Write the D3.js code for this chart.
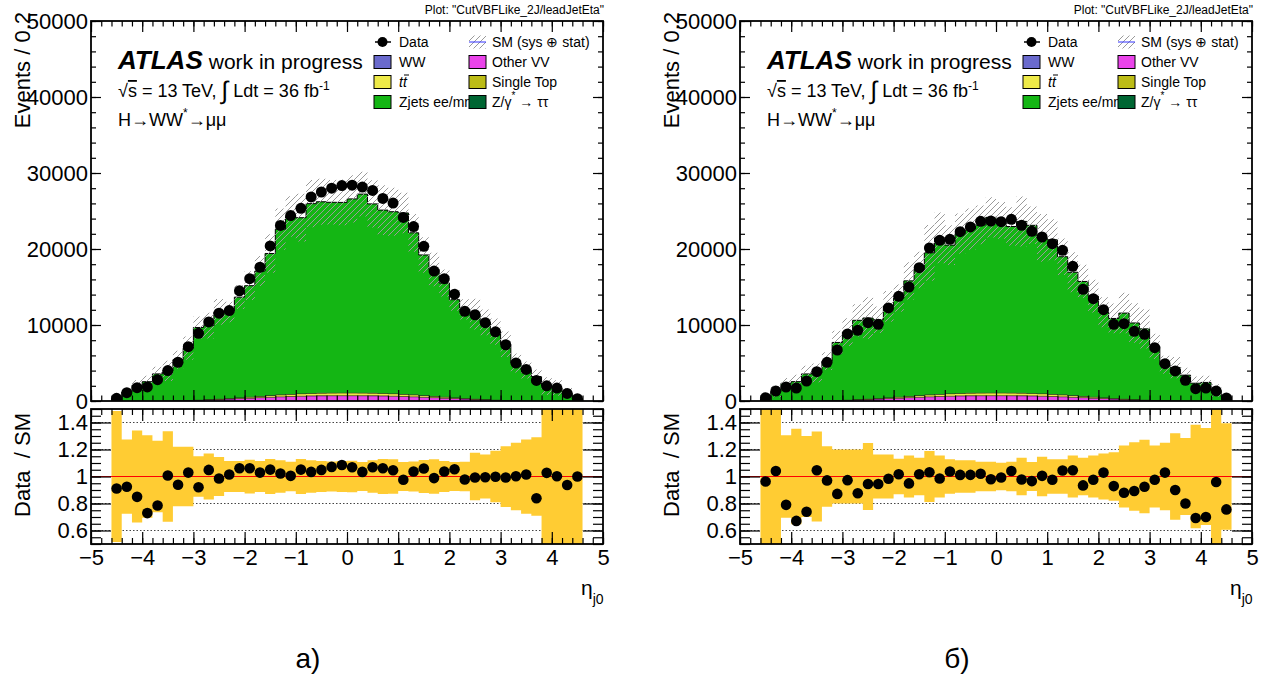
<!DOCTYPE html>
<html><head><meta charset="utf-8">
<script src="https://cdn.jsdelivr.net/npm/d3@7"></script>
<style>
body{margin:0;background:#fff}
svg{display:block}
text{font-family:"Liberation Sans",Arial,Helvetica,sans-serif;fill:#000}
</style>
</head><body>
<svg id="c" width="1275" height="677"></svg>
<script>
// ---------------- data ----------------
const etaCenters = [-4.5,-4.3,-4.1,-3.9,-3.7,-3.5,-3.3,-3.1,-2.9,-2.7,-2.5,-2.3,-2.1,-1.9,-1.7,-1.5,-1.3,-1.1,-0.9,-0.7,-0.5,-0.3,-0.1,0.1,0.3,0.5,0.7,0.9,1.1,1.3,1.5,1.7,1.9,2.1,2.3,2.5,2.7,2.9,3.1,3.3,3.5,3.7,3.9,4.1,4.3,4.5];
const binWidth = 0.2;

const dataA = [350,1100,1750,1850,2800,4000,5100,7150,8900,10400,11550,11900,14500,16100,17600,20400,23100,24400,25350,26850,27500,28000,28350,28400,28150,27700,26650,26050,24150,22950,20350,17100,16100,14050,11800,11350,10300,9100,7400,5000,4150,2700,2000,1700,1000,300];
const zjetsA = [379,1179,2042,2509,3526,3914,5348,6832,9512,9691,11435,11354,13207,14623,16447,18656,21758,23355,23132,24931,25145,25053,25027,25490,26133,24866,24082,23916,23820,21286,18462,16651,14975,12871,11695,11139,10129,8956,7335,4907,4031,3177,1918,1678,1056,295];
const errA = [0.485,0.275,0.34,0.305,0.265,0.335,0.22,0.22,0.15,0.17,0.145,0.115,0.115,0.125,0.115,0.13,0.12,0.11,0.13,0.12,0.115,0.112,0.115,0.117,0.108,0.12,0.13,0.127,0.108,0.112,0.122,0.127,0.115,0.108,0.11,0.176,0.163,0.19,0.225,0.25,0.275,0.29,0.6,0.6,0.6,0.6];

const dataB = [440,1300,1840,1710,2630,3860,5090,6710,8820,9300,10310,10090,12240,13770,15000,17540,20130,21140,21270,22280,22900,23640,23680,23600,23900,23110,22330,21580,20700,19820,17720,14690,13460,12020,10090,10180,9170,8770,7020,4910,3950,2720,1620,1710,1320,400];
const zjetsB = [452,1238,2310,2519,3518,3632,5159,7587,8903,10393,10631,10319,11993,12989,15149,16493,18661,20538,19523,20980,21558,22085,23061,22664,21868,22560,22080,20485,20285,18140,16187,15071,13240,11222,10491,11277,10046,9329,7076,4689,4331,3359,2309,2424,1365,524];
const errB = [0.6,0.6,0.305,0.354,0.30,0.334,0.224,0.2,0.2,0.2,0.249,0.163,0.163,0.132,0.156,0.139,0.188,0.156,0.127,0.12,0.12,0.11,0.11,0.102,0.11,0.139,0.107,0.146,0.127,0.127,0.156,0.139,0.156,0.17,0.18,0.23,0.254,0.273,0.23,0.25,0.32,0.285,0.383,0.36,0.6,0.395];

// minor backgrounds (same samples in both panels)
const ww        = [0,0,1,2,3,5,8,12,18,25,32,40,48,55,62,68,72,75,78,80,80,81,82,82,81,80,80,78,75,72,68,62,55,48,40,32,25,18,12,8,5,3,2,1,0,0];
const otherVV   = [5,10,15,22,30,40,55,75,100,135,175,220,270,320,380,430,480,520,555,580,600,610,615,615,610,600,580,555,520,480,430,380,320,270,220,175,135,100,75,55,40,30,22,15,10,5];
const singleTop = [0,0,1,1,2,3,5,8,12,17,22,28,34,40,46,52,56,60,62,64,65,66,66,66,66,65,64,62,60,56,52,46,40,34,28,22,17,12,8,5,3,2,1,1,0,0];
const ttbar     = [0,1,2,3,5,8,12,18,26,38,52,70,92,118,148,180,210,240,262,280,292,300,305,305,300,292,280,262,240,210,180,148,118,92,70,52,38,26,18,12,8,5,3,2,1,0];
const ztautau   = [0,0,0,1,1,2,3,4,6,8,10,12,15,18,21,24,27,29,31,32,33,34,34,34,34,33,32,31,29,27,24,21,18,15,12,10,8,6,4,3,2,1,1,0,0,0];

const yMainTicks = [0,10000,20000,30000,40000,50000];
const yRatioTicks = [0.6,0.8,1,1.2,1.4];
const xTicks = [-5,-4,-3,-2,-1,0,1,2,3,4,5];

const colors = {ww:"#6a6acd", otherVV:"#ea44ea", singleTop:"#bcbc16", ttbar:"#eeea48", ztautau:"#006633", zjets:"#14b614"};
const hatchColor = "#9a9a9a";
const bandColor = "#ffcc33";

// ---------------- drawing ----------------
const svg = d3.select("#c");
const defs = svg.append("defs");
const pat = defs.append("pattern").attr("id","hatch").attr("patternUnits","userSpaceOnUse")
  .attr("width",6).attr("height",6);
pat.append("path").attr("d","M-1,1 L1,-1 M0,6 L6,0 M5,7 L7,5")
  .attr("stroke",hatchColor).attr("stroke-width",1).attr("fill","none");

const FX0=91, FX1=603, MY0=21, MY1=401, RY0=409, RY1=544;

function styleAxis(sel, w){
  sel.select(".domain").remove();
  sel.selectAll(".tick line").attr("stroke","#000").attr("stroke-width",w||1.2);
  sel.selectAll(".tick text").attr("font-family","Liberation Sans, Arial, sans-serif").attr("font-size",22).attr("fill","#000");
}

function drawPanel(ox, id, dataArr, zjetsArr, errArr, caption){
  const g = svg.append("g").attr("transform",`translate(${ox},0)`);
  const x = d3.scaleLinear().domain([-5,5]).range([FX0,FX1]);
  const y = d3.scaleLinear().domain([0,50000]).range([MY1,MY0]);
  const yr = d3.scaleLinear().domain([0.5,1.5]).range([RY1,RY0]);

  defs.append("clipPath").attr("id","cm"+id).append("rect")
    .attr("x",FX0).attr("y",MY0).attr("width",FX1-FX0).attr("height",MY1-MY0);
  defs.append("clipPath").attr("id","cr"+id).append("rect")
    .attr("x",FX0).attr("y",RY0).attr("width",FX1-FX0).attr("height",RY1-RY0);

  const table = etaCenters.map((c,i)=>({c, ww:ww[i], otherVV:otherVV[i], singleTop:singleTop[i], ttbar:ttbar[i], ztautau:ztautau[i], zjets:zjetsArr[i], data:dataArr[i], err:errArr[i]}));
  const keys = ["ww","otherVV","singleTop","ttbar","ztautau","zjets"];
  const series = d3.stack().keys(keys)(table);
  const total = series[series.length-1].map(v=>v[1]);

  const main = g.append("g").attr("clip-path",`url(#cm${id})`);
  const area = d3.area().x(p=>x(p.x)).y0(p=>y(p.y0)).y1(p=>y(p.y1));
  const line = d3.line().x(p=>x(p.x)).y(p=>y(p.y1));
  series.forEach(s=>{
    const pts=[];
    s.forEach((v,i)=>{
      pts.push({x:etaCenters[i]-binWidth/2,y0:v[0],y1:v[1]});
      pts.push({x:etaCenters[i]+binWidth/2,y0:v[0],y1:v[1]});
    });
    main.append("path").datum(pts).attr("d",area).attr("fill",colors[s.key]);
    const lp=[{x:pts[0].x,y1:0},...pts,{x:pts[pts.length-1].x,y1:0}];
    main.append("path").datum(lp).attr("d",line).attr("fill","none").attr("stroke","#000").attr("stroke-width",s.key==="zjets"?1:0.6);
  });
  // hatched uncertainty band
  const hp=[];
  table.forEach((d,i)=>{
    hp.push({x:d.c-binWidth/2,y0:total[i]*(1-d.err),y1:total[i]*(1+d.err)});
    hp.push({x:d.c+binWidth/2,y0:total[i]*(1-d.err),y1:total[i]*(1+d.err)});
  });
  main.append("path").datum(hp).attr("d",area).attr("fill","url(#hatch)");
  // data points
  main.selectAll("circle.d").data(table).join("circle").attr("class","d")
    .attr("cx",d=>x(d.c)).attr("cy",d=>y(d.data)).attr("r",5.5).attr("fill","#000");

  // ---- ratio ----
  const rat = g.append("g").attr("clip-path",`url(#cr${id})`);
  [0.6,0.8,1.2,1.4].forEach(v=>{
    rat.append("line").attr("x1",FX0).attr("x2",FX1).attr("y1",yr(v)).attr("y2",yr(v))
      .attr("stroke","#444").attr("stroke-width",1).attr("stroke-dasharray","1.5,2");
  });
  const ra = d3.area().x(p=>x(p.x)).y0(p=>yr(p.y0)).y1(p=>yr(p.y1));
  const bp=[];
  table.forEach(d=>{
    bp.push({x:d.c-binWidth/2,y0:1-d.err,y1:1+d.err});
    bp.push({x:d.c+binWidth/2,y0:1-d.err,y1:1+d.err});
  });
  rat.append("path").datum(bp).attr("d",ra).attr("fill",bandColor);
  rat.append("line").attr("x1",FX0).attr("x2",FX1).attr("y1",yr(1)).attr("y2",yr(1))
    .attr("stroke","#ff0000").attr("stroke-width",1);
  rat.selectAll("circle.r").data(table).join("circle").attr("class","r")
    .attr("cx",d=>x(d.c)).attr("cy",(d,i)=>yr(d.data/total[i])).attr("r",5.3).attr("fill","#000");

  // ---- axes ----
  const xMinor = d3.range(-5,5.0001,0.2);
  const yMinor = d3.range(0,50001,2000);
  const rMinor = d3.range(0.5,1.5001,0.05);
  const fmtR = d=>String(+d.toFixed(1));
  g.append("g").attr("transform",`translate(0,${MY1})`).call(d3.axisBottom(x).tickValues(xMinor).tickSize(-5.5).tickFormat("")).call(styleAxis);
  g.append("g").attr("transform",`translate(0,${MY1})`).call(d3.axisBottom(x).tickValues(xTicks).tickSize(-11).tickFormat("")).call(styleAxis);
  g.append("g").attr("transform",`translate(0,${MY0})`).call(d3.axisTop(x).tickValues(xMinor).tickSize(-5.5).tickFormat("")).call(styleAxis);
  g.append("g").attr("transform",`translate(0,${MY0})`).call(d3.axisTop(x).tickValues(xTicks).tickSize(-11).tickFormat("")).call(styleAxis);
  g.append("g").attr("transform",`translate(${FX0},0)`).call(d3.axisLeft(y).tickValues(yMinor).tickSize(-5).tickFormat("")).call(styleAxis);
  g.append("g").attr("transform",`translate(${FX0},0)`).call(d3.axisLeft(y).tickValues(yMainTicks).tickSize(-10).tickPadding(3).tickFormat(d3.format("d"))).call(styleAxis);
  g.append("g").attr("transform",`translate(${FX1},0)`).call(d3.axisRight(y).tickValues(yMinor).tickSize(-5).tickFormat("")).call(styleAxis);
  g.append("g").attr("transform",`translate(${FX1},0)`).call(d3.axisRight(y).tickValues(yMainTicks).tickSize(-10).tickFormat("")).call(styleAxis);
  g.append("rect").attr("x",FX0).attr("y",MY0).attr("width",FX1-FX0).attr("height",MY1-MY0)
    .attr("fill","none").attr("stroke","#000").attr("stroke-width",1.8);
  g.append("g").attr("transform",`translate(0,${RY1})`).call(d3.axisBottom(x).tickValues(xMinor).tickSize(-6).tickFormat("")).call(styleAxis);
  g.append("g").attr("transform",`translate(0,${RY1})`).call(d3.axisBottom(x).tickValues(xTicks).tickSize(-12).tickPadding(5).tickFormat(d3.format("d"))).call(styleAxis);
  g.append("g").attr("transform",`translate(0,${RY0})`).call(d3.axisTop(x).tickValues(xMinor).tickSize(-6).tickFormat("")).call(styleAxis);
  g.append("g").attr("transform",`translate(0,${RY0})`).call(d3.axisTop(x).tickValues(xTicks).tickSize(-12).tickFormat("")).call(styleAxis);
  g.append("g").attr("transform",`translate(${FX0},0)`).call(d3.axisLeft(yr).tickValues(rMinor).tickSize(-10).tickFormat("")).call(styleAxis);
  g.append("g").attr("transform",`translate(${FX0},0)`).call(d3.axisLeft(yr).tickValues(yRatioTicks).tickSize(-20).tickPadding(3).tickFormat(fmtR)).call(styleAxis);
  g.append("g").attr("transform",`translate(${FX1},0)`).call(d3.axisRight(yr).tickValues(rMinor).tickSize(-10).tickFormat("")).call(styleAxis);
  g.append("g").attr("transform",`translate(${FX1},0)`).call(d3.axisRight(yr).tickValues(yRatioTicks).tickSize(-20).tickFormat("")).call(styleAxis);
  g.append("rect").attr("x",FX0).attr("y",RY0).attr("width",FX1-FX0).attr("height",RY1-RY0)
    .attr("fill","none").attr("stroke","#000").attr("stroke-width",1.8);

  // ---- titles ----
  g.append("text").attr("transform","translate(30,12) rotate(-90)").attr("text-anchor","end")
    .attr("font-size",22).text("Events / 0.2");
  g.append("text").attr("transform","translate(30,413) rotate(-90)").attr("text-anchor","end")
    .attr("font-size",22).style("white-space","pre").text("Data  / SM");
  const xt = g.append("text").attr("x",581).attr("y",595).attr("font-size",21);
  xt.append("tspan").text("η");
  xt.append("tspan").attr("font-size",14).attr("dy",9).text("j0");
  g.append("text").attr("x",FX1+1).attr("y",14).attr("text-anchor","end").attr("font-size",12)
    .text('Plot: "CutVBFLike_2J/leadJetEta"');

  const at = g.append("text").attr("x",118).attr("y",69);
  at.append("tspan").attr("font-size",26).attr("font-weight","bold").attr("font-style","italic").text("ATLAS");
  at.append("tspan").attr("font-size",21).attr("dx",6).text("work in progress");
  const en = g.append("text").attr("x",118).attr("y",97).attr("font-size",18);
  en.append("tspan").text("√");
  en.append("tspan").style("text-decoration","overline").text("s");
  en.append("tspan").text(" = 13 TeV, ");
  en.append("tspan").attr("font-size",25).attr("dy",2).text("∫");
  en.append("tspan").attr("dy",-2).text(" Ldt = 36 fb");
  en.append("tspan").attr("font-size",12).attr("dy",-7).text("-1");
  const hl = g.append("text").attr("x",118).attr("y",126).attr("font-size",18);
  hl.append("tspan").text("H→WW");
  hl.append("tspan").attr("font-size",12).attr("dy",-9).text("*");
  hl.append("tspan").attr("dy",9).text("→μμ");

  // ---- legend ----
  const L = g.append("g");
  const rows=[42,62,82,102];
  const c1b=374, c1t=399, c2b=469, c2t=492, bw=17, bh=13;
  L.append("line").attr("x1",c1b+1).attr("x2",c1b+bw).attr("y1",rows[0]).attr("y2",rows[0]).attr("stroke","#000").attr("stroke-width",1.5);
  L.append("circle").attr("cx",c1b+bw/2).attr("cy",rows[0]).attr("r",5).attr("fill","#000");
  L.append("text").attr("x",c1t).attr("y",rows[0]+5).attr("font-size",14).text("Data");
  const box=(bx,row,col)=>L.append("rect").attr("x",bx).attr("y",row-bh/2).attr("width",bw).attr("height",bh).attr("fill",col).attr("stroke","#000").attr("stroke-width",1);
  box(c1b,rows[1],colors.ww);
  L.append("text").attr("x",c1t).attr("y",rows[1]+5).attr("font-size",14).text("WW");
  box(c1b,rows[2],colors.ttbar);
  L.append("text").attr("x",c1t).attr("y",rows[2]+5).attr("font-size",14).attr("font-style","italic").text("tt");
  L.append("line").attr("x1",c1t+5).attr("x2",c1t+10).attr("y1",rows[2]-7).attr("y2",rows[2]-7).attr("stroke","#000").attr("stroke-width",1);
  box(c1b,rows[3],colors.zjets);
  L.append("text").attr("x",c1t).attr("y",rows[3]+5).attr("font-size",14).text("Zjets ee/mm");
  L.append("rect").attr("x",c2b).attr("y",rows[0]-bh/2).attr("width",bw).attr("height",bh).attr("fill","url(#hatch)");
  L.append("line").attr("x1",c2b).attr("x2",c2b+bw).attr("y1",rows[0]).attr("y2",rows[0]).attr("stroke","#3333ff").attr("stroke-width",1);
  L.append("text").attr("x",c2t).attr("y",rows[0]+5).attr("font-size",14).text("SM (sys ⊕ stat)");
  box(c2b,rows[1],colors.otherVV);
  L.append("text").attr("x",c2t).attr("y",rows[1]+5).attr("font-size",14).text("Other VV");
  box(c2b,rows[2],colors.singleTop);
  L.append("text").attr("x",c2t).attr("y",rows[2]+5).attr("font-size",14).text("Single Top");
  box(c2b,rows[3],colors.ztautau);
  const zt = L.append("text").attr("x",c2t).attr("y",rows[3]+5).attr("font-size",14);
  zt.append("tspan").text("Z/γ");
  zt.append("tspan").attr("font-size",10).attr("dy",-8).text("*");
  zt.append("tspan").attr("dy",8).text(" → ττ");

  g.append("text").attr("x",308).attr("y",668).attr("text-anchor","middle")
    .attr("font-family","Liberation Serif, Times New Roman, serif").attr("font-size",28).text(caption);
}

drawPanel(0,"a",dataA,zjetsA,errA,"а)");
drawPanel(649,"b",dataB,zjetsB,errB,"б)");
</script>
</body></html>
